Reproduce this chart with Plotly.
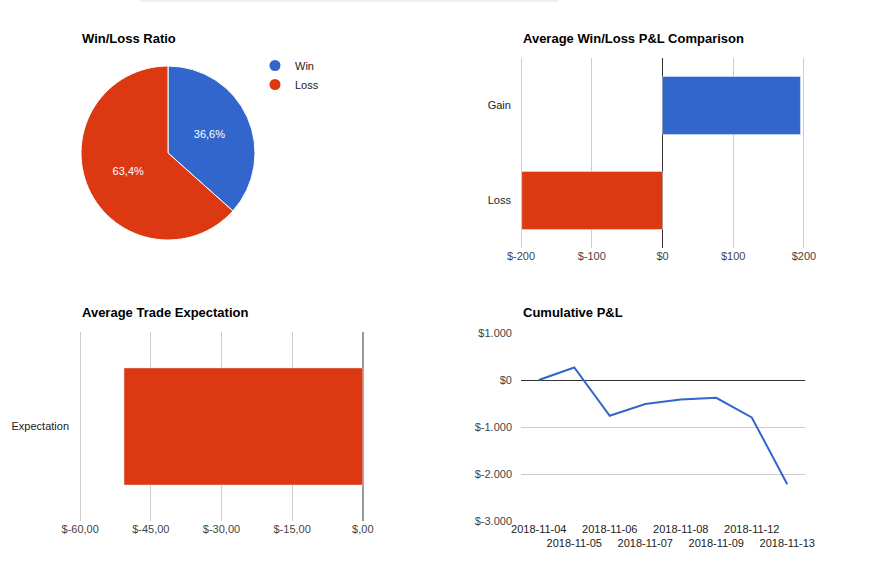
import plotly.graph_objects as go

W, H = 895, 578

# --- data ---
pie_labels = ["Win", "Loss"]
pie_values = [36.6, 63.4]

cmp_categories = ["Gain", "Loss"]
cmp_values = [195, -199]
cmp_tickvals = [-200, -100, 0, 100, 200]
cmp_ticktext = ["$-200", "$-100", "$0", "$100", "$200"]

exp_categories = ["Expectation"]
exp_values = [-50.7]
exp_tickvals = [-60, -45, -30, -15, 0]
exp_ticktext = ["$-60,00", "$-45,00", "$-30,00", "$-15,00", "$,00"]

pnl_dates = ["2018-11-04", "2018-11-05", "2018-11-06", "2018-11-07",
             "2018-11-08", "2018-11-09", "2018-11-12", "2018-11-13"]
pnl_values = [0, 266, -762, -510, -413, -378, -797, -2217]
pnl_tickvals = [1000, 0, -1000, -2000, -3000]
pnl_ticktext = ["$1.000", "$0", "$-1.000", "$-2.000", "$-3.000"]

BLUE = "#3366cc"
RED = "#dc3912"
FONT = "Liberation Sans, Arial, sans-serif"


def px_x(p):
    return p / W


def px_y(p):
    return 1 - p / H


fig = go.Figure()

# pie
fig.add_trace(go.Pie(
    labels=pie_labels, values=pie_values, sort=False, direction="clockwise",
    rotation=0, marker=dict(colors=[BLUE, RED], line=dict(color="white", width=1)),
    texttemplate="%{percent:.1%}", textposition="inside",
    insidetextfont=dict(color="white", size=11, family=FONT),
    showlegend=False, hoverinfo="label+percent",
    domain=dict(x=[px_x(81), px_x(255)], y=[px_y(240), px_y(66)]),
))
# legend entries with round symbols
for name, col in zip(pie_labels, [BLUE, RED]):
    fig.add_trace(go.Scatter(x=[None], y=[None], mode="markers", name=name,
                             marker=dict(color=col, size=11),
                             xaxis="x5", yaxis="y5"))

# average win/loss comparison
fig.add_trace(go.Bar(
    y=cmp_categories, x=cmp_values, orientation="h", width=0.61,
    marker=dict(color=[BLUE, RED]), showlegend=False,
    xaxis="x2", yaxis="y2",
))

# average trade expectation
fig.add_trace(go.Bar(
    y=exp_categories, x=exp_values, orientation="h", width=0.62,
    marker=dict(color=RED), showlegend=False,
    xaxis="x3", yaxis="y3",
))

# cumulative P&L
fig.add_trace(go.Scatter(
    x=pnl_dates, y=pnl_values, mode="lines", line=dict(color=BLUE, width=2),
    showlegend=False, xaxis="x4", yaxis="y4",
))

tick_font = dict(size=11, color="#444", family=FONT)
cat_font = dict(size=11, color="#222", family=FONT)
date_text = [d if i % 2 == 0 else "<br>" + d for i, d in enumerate(pnl_dates)]

fig.update_layout(
    width=W, height=H,
    margin=dict(l=0, r=0, t=0, b=0, pad=0, autoexpand=False),
    paper_bgcolor="white", plot_bgcolor="white",
    font=dict(family=FONT, size=11, color="#222"),
    separators=",.",
    showlegend=True,
    legend=dict(x=px_x(255), y=px_y(51), xanchor="left", yanchor="top",
                font=dict(size=11, color="#222", family=FONT),
                itemwidth=30, tracegroupgap=0, bgcolor="rgba(0,0,0,0)"),
    xaxis5=dict(visible=False, domain=[0, 0.01], automargin=False),
    yaxis5=dict(visible=False, domain=[0, 0.01], anchor="x5", automargin=False),
    xaxis2=dict(domain=[px_x(518.9), px_x(806.1)], anchor="y2", range=[-203, 203],
                tickvals=cmp_tickvals, ticktext=cmp_ticktext, tickfont=tick_font,
                showgrid=True, gridcolor="#cccccc", zeroline=True,
                zerolinecolor="#333333", zerolinewidth=1, automargin=False),
    yaxis2=dict(domain=[px_y(248), px_y(58)], anchor="x2",
                categoryorder="array", categoryarray=cmp_categories[::-1],
                tickfont=cat_font, ticklabelstandoff=7, showgrid=False,
                automargin=False),
    xaxis3=dict(domain=[px_x(79), px_x(364)], anchor="y3", range=[-60.25, 0.25],
                tickvals=exp_tickvals, ticktext=exp_ticktext, tickfont=tick_font,
                showgrid=True, gridcolor="#cccccc", zeroline=True,
                zerolinecolor="#999999", zerolinewidth=2, automargin=False),
    yaxis3=dict(domain=[px_y(521), px_y(332)], anchor="x3",
                tickfont=cat_font, ticklabelstandoff=9, showgrid=False,
                automargin=False),
    xaxis4=dict(domain=[px_x(521), px_x(805)], anchor="y4", type="category",
                range=[-0.5, len(pnl_dates) - 0.5],
                tickvals=pnl_dates, ticktext=date_text, tickfont=cat_font,
                showgrid=False, tickangle=0, automargin=False),
    yaxis4=dict(domain=[px_y(521), px_y(333)], anchor="x4", range=[-3000, 1000],
                tickvals=pnl_tickvals, ticktext=pnl_ticktext, tickfont=tick_font,
                ticklabelstandoff=8, showgrid=True, gridcolor="#cccccc",
                zeroline=True, zerolinecolor="#333333", zerolinewidth=1,
                automargin=False),
)

# faint page shadow along the top edge
fig.add_shape(type="line", xref="paper", yref="paper",
              x0=px_x(140), x1=px_x(558), y0=px_y(1), y1=px_y(1),
              line=dict(color="#f0f0f0", width=2))

titles = [
    ("Win/Loss Ratio", 80, 38),
    ("Average Win/Loss P&L Comparison", 521, 38),
    ("Average Trade Expectation", 80, 312),
    ("Cumulative P&L", 521, 312),
]
for text, x, y in titles:
    fig.add_annotation(text="<b>%s</b>" % text, x=px_x(x), y=px_y(y),
                       xref="paper", yref="paper", xanchor="left", yanchor="middle",
                       showarrow=False, font=dict(size=13, color="#000", family=FONT))

fig.write_html("out.html", config={"displayModeBar": False},
               post_script="document.body.style.margin='0';document.body.style.overflow='hidden';")
